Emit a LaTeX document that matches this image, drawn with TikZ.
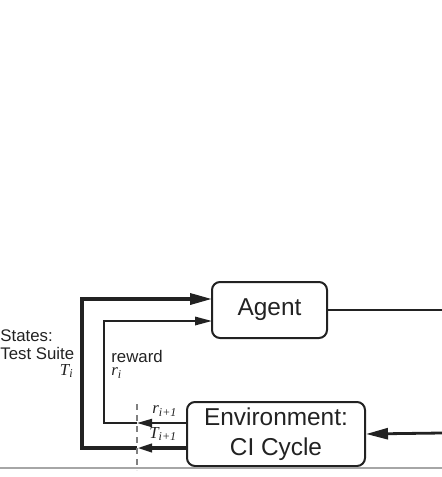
\documentclass[tikz,border=0pt]{standalone}
\usepackage{fontspec}
\setmainfont{Liberation Sans}
\newfontfamily\serifit{Liberation Serif}[UprightFont=*-Italic]
\newcommand\indexed[2]{{\serifit #1}\raisebox{-0.3ex}{\fontsize{6}{6}\selectfont\serifit #2}}
\usetikzlibrary{arrows.meta}
\definecolor{ink}{HTML}{222222}
\begin{document}
\begin{tikzpicture}[x=0.5pt,y=-0.5pt, color=ink,
  block/.style={draw, line width=1pt, rounded corners=4pt, inner sep=0pt,
    font=\fontsize{12.2}{15}\selectfont, align=center},
  small/.style={font=\fontsize{8.4}{10}\selectfont, inner sep=0pt},
  heavy/.style={line width=1.7pt},
  light/.style={line width=1pt},
  medium/.style={line width=1.4pt},
  bigtip/.style={-{Triangle[length=11pt,width=5.5pt]}},
  lighttip/.style={-{Triangle[length=8.5pt,width=4.2pt]}},
  cuttip/.style={-{Triangle[length=7.5pt,width=4pt]}},
]
\useasboundingbox (0,0) rectangle (442,477);

% boxes
\node[block, minimum width=57.5pt, minimum height=28pt] (agent) at (269.5,310) {Agent};
\node[block, minimum width=89pt, minimum height=32pt] (env) at (276,434) {Environment:\\CI Cycle};

% corner and cut points
\coordinate (outR) at (442,310);
\coordinate (inR) at (442,433);
\coordinate (sEnv) at (187,448);
\coordinate (rEnv) at (187,423);
\coordinate (sCut) at (137,448);
\coordinate (rCut) at (137,423);
\coordinate (sLow) at (82,448);
\coordinate (sHigh) at (82,299);
\coordinate (sAg) at (212,299);
\coordinate (rLow) at (104,423);
\coordinate (rHigh) at (104,321);
\coordinate (rAg) at (212,321);
\coordinate (dTop) at (137,404);
\coordinate (dBot) at (137,470);

% action out of the agent, into the environment
\draw[medium] (agent.east) -- (outR);
\draw[medium, bigtip] (inR) -- (env.east);

% state loop
\draw[heavy, cuttip] (sEnv) -- (sCut);
\draw[heavy, bigtip] (sCut) -- (sLow) -- (sHigh) -- (sAg);

% reward loop
\draw[light, cuttip] (rEnv) -- (rCut);
\draw[light, lighttip] (rCut) -- (rLow) -- (rHigh) -- (rAg);

% time step boundary
\draw[gray, line width=0.6pt, dash pattern=on 3pt off 2.5pt] (dTop) -- (dBot);

% baseline rule
\draw[gray!70, line width=1pt] (0,468) -- (442,468);

% labels
\node[small, anchor=west] (lblS) at (0,336) {States:};
\node[small, anchor=west] (lblT) at (0,353) {Test Suite};
\node[small, anchor=east] (lblTi) at (73,371) {\indexed{T}{i}};
\node[small, anchor=west] (lblR) at (111,356) {reward};
\node[small, anchor=west] (lblRi) at (111,373) {\indexed{r}{i}};
\node[small, anchor=west] (lblR1) at (152,411) {\indexed{r}{i+1}};
\node[small, anchor=west] (lblT1) at (149,434) {\indexed{T}{i+1}};
\end{tikzpicture}
\end{document}
